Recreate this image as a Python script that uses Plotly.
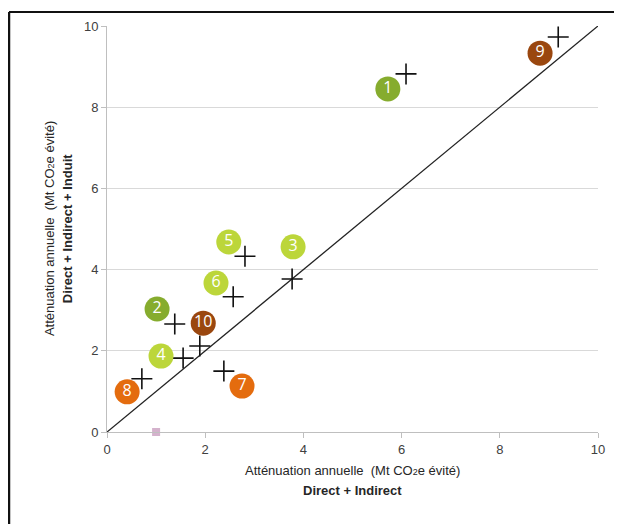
import plotly.graph_objects as go

# Crosses: measured points (x = Direct + Indirect, y = Direct + Indirect + Induit)
cross_x = [6.09, 1.38, 3.77, 1.55, 2.81, 2.57, 2.38, 0.71, 9.19, 1.89]
cross_y = [8.82, 2.66, 3.77, 1.82, 4.33, 3.33, 1.50, 1.31, 9.73, 2.12]

# Numbered labels
label_text = ["1", "2", "3", "4", "5", "6", "7", "8", "9", "10"]
label_x = [5.72, 1.02, 3.79, 1.10, 2.48, 2.22, 2.75, 0.41, 8.82, 1.96]
label_y = [8.45, 3.03, 4.56, 1.87, 4.68, 3.67, 1.13, 0.99, 9.33, 2.68]
label_group = ["dg", "dg", "lg", "lg", "lg", "lg", "or", "or", "br", "br"]

group_colors = {"dg": "#86AC2E", "lg": "#BCD63A", "or": "#E46C0E", "br": "#9A470F"}

# Identity line
diag_x = [0, 10]
diag_y = [0, 10]

# Stray marker
pink_x = [1.0]
pink_y = [0.0]

axis_ticks = [0, 2, 4, 6, 8, 10]

fig = go.Figure()

fig.add_trace(go.Scatter(x=diag_x, y=diag_y, mode="lines",
                         line=dict(color="#222222", width=1.3),
                         hoverinfo="skip", showlegend=False))

fig.add_trace(go.Scatter(x=cross_x, y=cross_y, mode="markers",
                         marker=dict(symbol="cross-thin", size=15,
                                     line=dict(color="#111111", width=1.6)),
                         showlegend=False))

fig.add_trace(go.Scatter(x=label_x, y=label_y, mode="markers+text",
                         text=label_text, textposition="middle center",
                         textfont=dict(color="white", size=16, family="Open Sans"),
                         marker=dict(symbol="circle", size=25,
                                     color=[group_colors[g] for g in label_group],
                                     line=dict(width=0)),
                         cliponaxis=False, showlegend=False))

fig.add_trace(go.Scatter(x=pink_x, y=pink_y, mode="markers",
                         marker=dict(symbol="square", size=8, color="#D4B2CC"),
                         cliponaxis=False, showlegend=False))

axis_common = dict(range=[0, 10], tickvals=axis_ticks, showline=True,
                   linecolor="#BFBFBF", linewidth=1, ticks="outside",
                   ticklen=5, tickcolor="#BFBFBF", zeroline=False,
                   tickfont=dict(family="Liberation Sans, Arial", size=13, color="#404040"))

fig.update_xaxes(**axis_common, showgrid=False)
fig.update_yaxes(**axis_common, showgrid=True, gridcolor="#D9D9D9", gridwidth=1)

title_font = dict(family="Liberation Sans, Arial", size=13, color="#262626")
co2 = "CO<span style='font-size:9px'>2</span>e"

fig.add_annotation(xref="paper", yref="paper", x=0.5, y=-0.096,
                   text="Atténuation annuelle  (Mt " + co2 + " évité)",
                   showarrow=False, font=title_font, yanchor="middle")
fig.add_annotation(xref="paper", yref="paper", x=0.5, y=-0.145,
                   text="<b>Direct + Indirect</b>",
                   showarrow=False, font=title_font, yanchor="middle")
fig.add_annotation(xref="paper", yref="paper", x=-0.118, y=0.5,
                   text="Atténuation annuelle  (Mt " + co2 + " évité)",
                   textangle=-90, showarrow=False, font=title_font, xanchor="center")
fig.add_annotation(xref="paper", yref="paper", x=-0.081, y=0.5,
                   text="<b>Direct + Indirect + Induit</b>",
                   textangle=-90, showarrow=False, font=title_font, xanchor="center")

# Frame border (top and left visible)
fig.add_shape(type="line", xref="paper", yref="paper",
              x0=-0.1996, x1=1.045, y0=1.0345, y1=1.0345,
              line=dict(color="#111111", width=2))
fig.add_shape(type="line", xref="paper", yref="paper",
              x0=-0.1996, x1=-0.1996, y0=1.0345, y1=-0.25,
              line=dict(color="#111111", width=2.5))

fig.update_layout(width=614, height=516,
                  margin=dict(l=99, r=24, t=18, b=92),
                  paper_bgcolor="white", plot_bgcolor="white")

fig.write_html("out.html")
